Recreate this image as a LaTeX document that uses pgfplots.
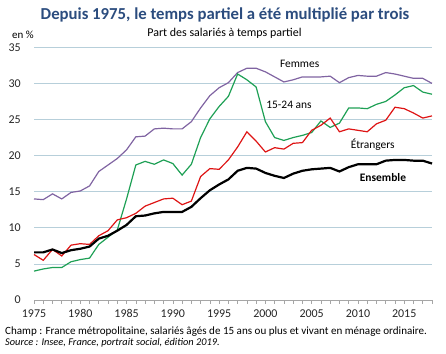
\documentclass[border=0pt]{standalone}
\usepackage{fontspec}
\setmainfont{Carlito}
\usepackage{pgfplots}
\pgfplotsset{compat=1.18}
\definecolor{titlec}{RGB}{43,76,126}
\definecolor{gridc}{RGB}{183,207,218}
\definecolor{femc}{RGB}{128,100,162}
\definecolor{jeunc}{RGB}{30,160,85}
\definecolor{etrc}{RGB}{222,20,20}
\begin{document}
\begin{tikzpicture}[x=1bp,y=1bp]
\path[use as bounding box] (0,0) rectangle (446,353);
\begin{axis}[
 at={(34bp,53bp)}, anchor=south west,
 scale only axis, width=398bp, height=252.7bp,
 xmin=1975, xmax=2018, ymin=0, ymax=35,
 axis x line*=bottom, axis y line*=left,
 x axis line style={draw=gray!70, line width=0.6bp, -},
 y axis line style={draw=none},
 xtick={1975,1980,...,2015}, minor xtick={1975,...,2018},
 ytick={0,5,...,35},
 ymajorgrids, grid style={draw=gridc, line width=0.8bp},
 ytick style={draw=none},
 xtick style={draw=gray!70, line width=0.6bp},
 minor tick style={draw=gray!70, line width=0.6bp},
 tick align=outside, major tick length=3.5bp, minor tick length=3.5bp,
 xticklabel style={font=\fontsize{12}{13}\selectfont, text=black!85, inner sep=0pt, yshift=-6bp},
 yticklabel style={font=\fontsize{12}{13}\selectfont, text=black!85, inner sep=0pt, anchor=east, xshift=-9.5bp},
 /pgf/number format/assume math mode=true,
 /pgf/number format/1000 sep={},
 clip=false,
]
% Femmes
\addplot[femc, line width=1.2bp] coordinates {
(1975,14.0)(1976,13.9)(1977,14.7)(1978,14.0)(1979,14.9)(1980,15.1)(1981,15.8)(1982,17.8)(1983,18.7)(1984,19.6)
(1985,20.8)(1986,22.6)(1987,22.7)(1988,23.7)(1989,23.8)(1990,23.7)(1991,23.7)(1992,24.7)(1993,26.6)(1994,28.3)
(1995,29.4)(1996,30.1)(1997,31.5)(1998,32.1)(1999,32.1)(2000,31.6)(2001,30.9)(2002,30.2)(2003,30.5)(2004,30.9)
(2005,30.9)(2006,30.9)(2007,31.0)(2008,30.1)(2009,30.8)(2010,31.1)(2011,31.0)(2012,31.0)(2013,31.5)(2014,31.3)
(2015,31.0)(2016,30.7)(2017,30.7)(2018,30.0)};
% 15-24 ans
\addplot[jeunc, line width=1.2bp] coordinates {
(1975,4.0)(1976,4.3)(1977,4.5)(1978,4.5)(1979,5.3)(1980,5.6)(1981,5.8)(1982,7.7)(1983,8.7)(1984,9.7)
(1985,14.0)(1986,18.7)(1987,19.2)(1988,18.8)(1989,19.4)(1990,18.9)(1991,17.3)(1992,18.8)(1993,22.5)(1994,25.1)
(1995,26.8)(1996,28.2)(1997,31.3)(1998,30.5)(1999,29.5)(2000,24.7)(2001,22.5)(2002,22.1)(2003,22.5)(2004,22.8)
(2005,23.2)(2006,24.8)(2007,23.9)(2008,24.5)(2009,26.6)(2010,26.6)(2011,26.5)(2012,27.1)(2013,27.5)(2014,28.4)
(2015,29.4)(2016,29.7)(2017,28.8)(2018,28.5)};
% Etrangers
\addplot[etrc, line width=1.2bp] coordinates {
(1975,6.3)(1976,5.5)(1977,7.0)(1978,6.1)(1979,7.6)(1980,7.8)(1981,7.7)(1982,8.9)(1983,9.6)(1984,11.1)
(1985,11.4)(1986,12.0)(1987,13.0)(1988,13.5)(1989,14.0)(1990,14.1)(1991,13.2)(1992,13.7)(1993,17.1)(1994,18.2)
(1995,18.1)(1996,19.4)(1997,21.2)(1998,23.3)(1999,22.0)(2000,20.5)(2001,21.1)(2002,20.9)(2003,21.7)(2004,21.8)
(2005,23.5)(2006,24.2)(2007,25.2)(2008,23.3)(2009,23.7)(2010,23.5)(2011,23.3)(2012,24.4)(2013,24.9)(2014,26.7)
(2015,26.5)(2016,25.9)(2017,25.2)(2018,25.5)};
% Ensemble
\addplot[black, line width=2.2bp] coordinates {
(1975,6.6)(1976,6.6)(1977,7.0)(1978,6.5)(1979,6.9)(1980,7.1)(1981,7.4)(1982,8.5)(1983,8.9)(1984,9.6)
(1985,10.4)(1986,11.6)(1987,11.7)(1988,12.0)(1989,12.2)(1990,12.2)(1991,12.2)(1992,12.9)(1993,14.1)(1994,15.2)
(1995,16.0)(1996,16.7)(1997,17.9)(1998,18.3)(1999,18.2)(2000,17.6)(2001,17.2)(2002,16.9)(2003,17.5)(2004,17.9)
(2005,18.1)(2006,18.2)(2007,18.3)(2008,17.8)(2009,18.4)(2010,18.8)(2011,18.8)(2012,18.8)(2013,19.3)(2014,19.4)
(2015,19.4)(2016,19.3)(2017,19.3)(2018,18.9)};
\node[font=\fontsize{11.5}{12}\selectfont] at (axis cs:2003.7,32.7) {Femmes};
\node[font=\fontsize{11.5}{12}\selectfont] at (axis cs:2002.55,27.1) {15-24 ans};
\node[font=\fontsize{11.5}{12}\selectfont] at (axis cs:2011.6,21.5) {Étrangers};
\node[font=\fontsize{11.5}{12}\selectfont\bfseries] at (axis cs:2012.7,17.0) {Ensemble};
\end{axis}
\node[font=\fontsize{16.8}{18}\selectfont\bfseries, text=titlec] at (225,338) {Depuis 1975, le temps partiel a été multiplié par trois};
\node[font=\fontsize{12}{13}\selectfont] at (224.5,320) {Part des salariés à temps partiel};
\node[font=\fontsize{11}{12}\selectfont, anchor=west, inner sep=0pt] at (12,318) {en \%};
\node[font=\fontsize{11.1}{12}\selectfont, anchor=west, inner sep=0pt] at (5,21.5) {Champ : France métropolitaine, salariés âgés de 15 ans ou plus et vivant en ménage ordinaire.};
\node[font=\fontsize{10.4}{12}\selectfont\itshape, anchor=west, inner sep=0pt] at (5,10.5) {Source : Insee, France, portrait social, édition 2019.};
\end{tikzpicture}
\end{document}
